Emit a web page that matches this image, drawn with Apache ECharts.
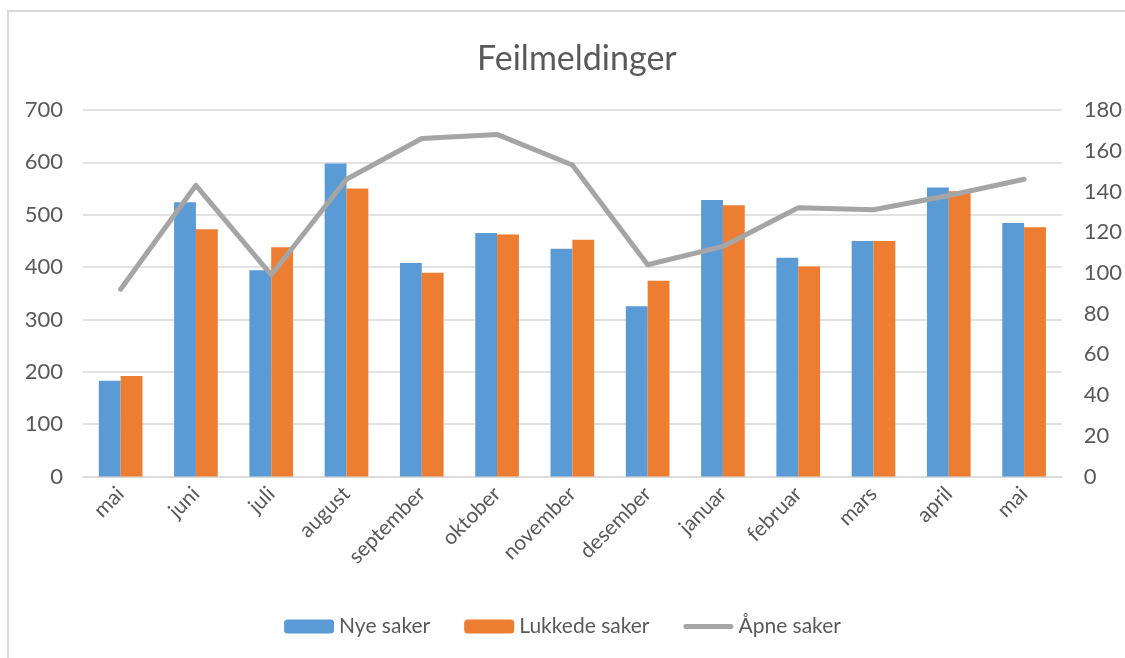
<!DOCTYPE html>
<html>
<head>
<meta charset="utf-8">
<script src="https://cdn.jsdelivr.net/npm/echarts@6/dist/echarts.min.js"></script>
<style>
  html, body { margin: 0; padding: 0; background: #fff; }
  .frame {
    position: absolute; left: 7px; top: 10px; right: -10px; bottom: -10px;
    border-left: 2px solid #d9d9d9; border-top: 2px solid #d9d9d9;
  }
  #chart { position: absolute; left: 0; top: 0; width: 1125px; height: 658px; }
</style>
</head>
<body>
<div class="frame"></div>
<div id="chart"></div>
<script>
// maaneder
var months = ["mai", "juni", "juli", "august", "september", "oktober", "november",
  "desember", "januar", "februar", "mars", "april", "mai"];
var nyeSaker = [183, 524, 394, 598, 408, 465, 435, 325, 528, 418, 450, 552, 484];
var lukkedeSaker = [192, 472, 438, 550, 389, 462, 452, 374, 518, 401, 450, 545, 476];
var apneSaker = [92, 143, 99, 146, 166, 168, 153, 104, 113, 132, 131, 138, 146];

var textColor = "#595959";
var font = "Lato";
// tykk strek med runde ender til legenden
var lineIcon = "path://M2.5,0 L47.5,0 A2.5,2.5 0 0 1 47.5,5 L2.5,5 A2.5,2.5 0 0 1 2.5,0 Z";

var chart = echarts.init(document.getElementById("chart"));
var option = {
  animation: false,
  textStyle: { fontFamily: font },
  title: {
    text: "Feilmeldinger",
    left: 472,
    top: 37,
    textStyle: { color: textColor, fontSize: 34, fontWeight: "normal", fontFamily: font }
  },
  legend: {
    bottom: 16,
    left: "center",
    itemWidth: 50,
    itemHeight: 14,
    itemGap: 34,
    textStyle: { color: textColor, fontSize: 21, fontFamily: font },
    data: [
      { name: "Nye saker" },
      { name: "Lukkede saker" },
      { name: "Åpne saker", icon: lineIcon }
    ]
  },
  grid: { left: 83, right: 63, top: 110, bottom: 181.5 },
  xAxis: {
    type: "category",
    data: months,
    axisLine: { lineStyle: { color: "#d9d9d9", width: 1.5 } },
    axisTick: { show: false },
    axisLabel: {
      rotate: 45,
      interval: 0,
      margin: 14,
      color: textColor,
      fontSize: 21,
      fontFamily: font
    }
  },
  yAxis: [
    {
      type: "value",
      min: 0,
      max: 700,
      interval: 100,
      axisLine: { show: false },
      axisTick: { show: false },
      axisLabel: { color: textColor, fontSize: 22, margin: 20, fontFamily: font },
      splitLine: { lineStyle: { color: "#d9d9d9", width: 1.5 } }
    },
    {
      type: "value",
      min: 0,
      max: 180,
      interval: 20,
      axisLine: { show: false },
      axisTick: { show: false },
      axisLabel: { color: textColor, fontSize: 22, margin: 22, fontFamily: font },
      splitLine: { show: false }
    }
  ],
  series: [
    {
      name: "Nye saker",
      type: "bar",
      data: nyeSaker,
      barGap: "0%",
      barCategoryGap: "42%",
      itemStyle: { color: "#5b9bd5" }
    },
    {
      name: "Lukkede saker",
      type: "bar",
      data: lukkedeSaker,
      itemStyle: { color: "#ed7d31" }
    },
    {
      name: "Åpne saker",
      type: "line",
      yAxisIndex: 1,
      data: apneSaker,
      symbol: "none",
      itemStyle: { color: "#a5a5a5" },
      lineStyle: { color: "#a5a5a5", width: 5, cap: "round", join: "round" }
    }
  ]
};
chart.setOption(option);
</script>
</body>
</html>
